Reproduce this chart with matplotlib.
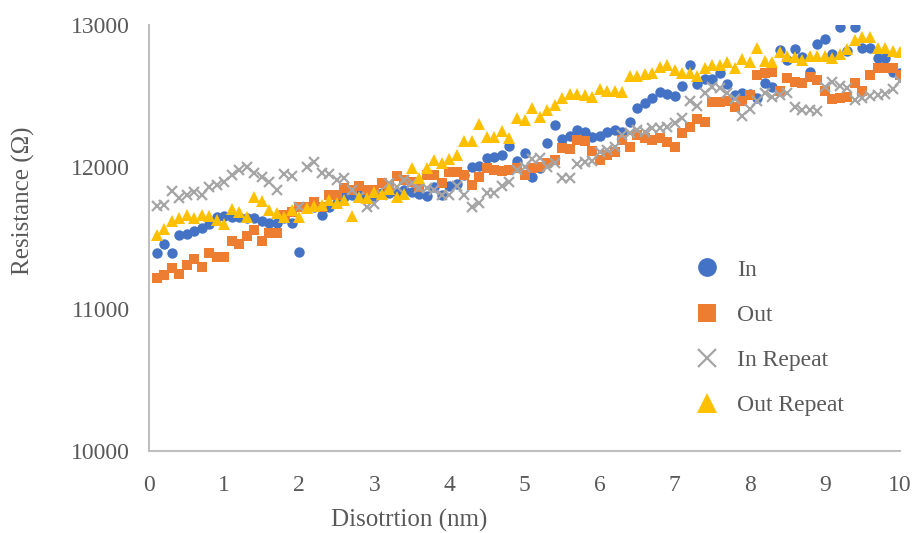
import numpy as np
import matplotlib
matplotlib.use("Agg")
import matplotlib.pyplot as plt

# distortion values, 0.1 nm steps
distortion = np.round(np.arange(1, 101) * 0.1, 1)

r_in = [
    11394, 11458, 11394, 11521, 11528, 11549, 11570, 11599, 11648, 11655,
    11648, 11648, 11641, 11641, 11620, 11606, 11606, 11640, 11606, 11401,
    11718, 11720, 11662, 11718, 11746, 11789, 11800, 11803, 11790, 11796,
    11817, 11817, 11824, 11838, 11824, 11810, 11796, 11859, 11803, 11866,
    11880, 11944, 12000, 12007, 12063, 12070, 12085, 12148, 12042, 12099,
    11930, 11990, 12169, 12296, 12197, 12218, 12261, 12246, 12211, 12218,
    12246, 12261, 12246, 12317, 12415, 12451, 12483, 12528, 12514, 12500,
    12570, 12715, 12585, 12620, 12620, 12662, 12585, 12507, 12521, 12515,
    12486, 12592, 12563, 12824, 12754, 12831, 12775, 12669, 12866, 12901,
    12796, 12986, 12817, 12986, 12838, 12838, 12768, 12768, 12669, 12662,
]

r_out = [
    11218, 11239, 11289, 11246, 11310, 11352, 11296, 11394, 11366, 11366,
    11479, 11458, 11514, 11556, 11479, 11535, 11535, 11662, 11683, 11718,
    11718, 11754, 11718, 11803, 11803, 11852, 11838, 11866, 11838, 11838,
    11887, 11866, 11937, 11908, 11894, 11859, 11944, 11944, 11887, 11965,
    11965, 11944, 11873, 11930, 11993, 11979, 11972, 11979, 11993, 11944,
    11993, 12000, 12030, 12049, 12134, 12127, 12190, 12183, 12113, 12049,
    12085, 12106, 12190, 12141, 12225, 12204, 12190, 12204, 12176, 12141,
    12239, 12282, 12338, 12317, 12458, 12458, 12465, 12423, 12465, 12507,
    12648, 12662, 12669, 12535, 12627, 12599, 12592, 12634, 12613, 12535,
    12479, 12486, 12493, 12592, 12535, 12648, 12697, 12697, 12697, 12648,
]

r_in_repeat = [
    11725, 11732, 11831, 11782, 11803, 11824, 11803, 11859, 11873, 11894,
    11944, 11979, 12000, 11958, 11930, 11894, 11838, 11951, 11937, 11718,
    12000, 12035, 11958, 11951, 11908, 11923, 11838, 11790, 11718, 11739,
    11800, 11887, 11859, 11908, 11887, 11850, 11852, 11838, 11803, 11803,
    11866, 11803, 11718, 11746, 11817, 11817, 11866, 11894, 11979, 12000,
    12056, 12063, 12000, 12028, 11923, 11923, 12020, 12035, 12040, 12106,
    12120, 12141, 12225, 12240, 12260, 12246, 12275, 12275, 12282, 12310,
    12345, 12465, 12430, 12521, 12563, 12556, 12521, 12479, 12359, 12408,
    12465, 12521, 12490, 12507, 12521, 12423, 12401, 12401, 12394, 12563,
    12599, 12570, 12556, 12472, 12486, 12500, 12507, 12514, 12549, 12606,
]

r_out_repeat = [
    11521, 11563, 11620, 11641, 11662, 11641, 11662, 11655, 11627, 11599,
    11704, 11683, 11648, 11789, 11761, 11697, 11676, 11648, 11697, 11648,
    11711, 11725, 11732, 11768, 11746, 11768, 11655, 11789, 11782, 11824,
    11810, 11845, 11789, 11810, 11993, 11923, 11993, 12049, 12028, 12056,
    12085, 12183, 12183, 12303, 12211, 12211, 12254, 12204, 12345, 12331,
    12416, 12352, 12401, 12437, 12486, 12514, 12514, 12507, 12493, 12549,
    12535, 12535, 12528, 12641, 12641, 12655, 12662, 12704, 12718, 12683,
    12662, 12662, 12641, 12697, 12718, 12718, 12739, 12697, 12761, 12739,
    12838, 12746, 12739, 12810, 12782, 12775, 12754, 12782, 12782, 12782,
    12768, 12796, 12831, 12894, 12915, 12915, 12838, 12838, 12817, 12810,
]

plt.rcParams['font.family'] = ['Liberation Serif', 'DejaVu Serif']
text_col = '#595959'

fig = plt.figure(figsize=(9.13, 5.33), dpi=100)
ax = fig.add_axes([0.1632, 0.1538, 0.8226, 0.7993])

ax.plot(distortion, r_in, 'o', color='#4472C4', markersize=7.5,
        markeredgewidth=0, label='In')
ax.plot(distortion, r_out, 's', color='#ED7D31', markersize=7,
        markeredgewidth=0, label='Out')
ax.plot(distortion, r_in_repeat, 'x', color='#A5A5A5', markersize=7,
        markeredgewidth=1.6, label='In Repeat')
ax.plot(distortion, r_out_repeat, '^', color='#FFC000', markersize=8,
        markeredgewidth=0, label='Out Repeat')

ax.set_xlim(0, 10)
ax.set_ylim(10000, 13000)
ax.set_xticks(range(0, 11))
ax.set_yticks([10000, 11000, 12000, 13000])

for side in ['top', 'right']:
    ax.spines[side].set_visible(False)
for side in ['left', 'bottom']:
    ax.spines[side].set_color('#BFBFBF')
    ax.spines[side].set_linewidth(1.5)

ax.tick_params(axis='both', length=0, labelsize=17, labelcolor=text_col)
ax.tick_params(axis='x', pad=17)
ax.tick_params(axis='y', pad=14)

# axis titles sit off-centre, like the original Excel chart
ax.set_xlabel('Disotrtion (nm)', fontsize=18, color=text_col)
ax.set_ylabel('Resistance (Ω)', fontsize=18, color=text_col)
ax.xaxis.set_label_coords(0.347, -0.136)
ax.yaxis.set_label_coords(-0.152, 0.587)

ax.legend(loc='center left', bbox_to_anchor=(0.711, 0.266), frameon=False,
          fontsize=17, markerscale=1.8, labelspacing=1.0, borderpad=0,
          borderaxespad=0, handletextpad=0.3, labelcolor=text_col)

fig.savefig('out.png', dpi=100)
